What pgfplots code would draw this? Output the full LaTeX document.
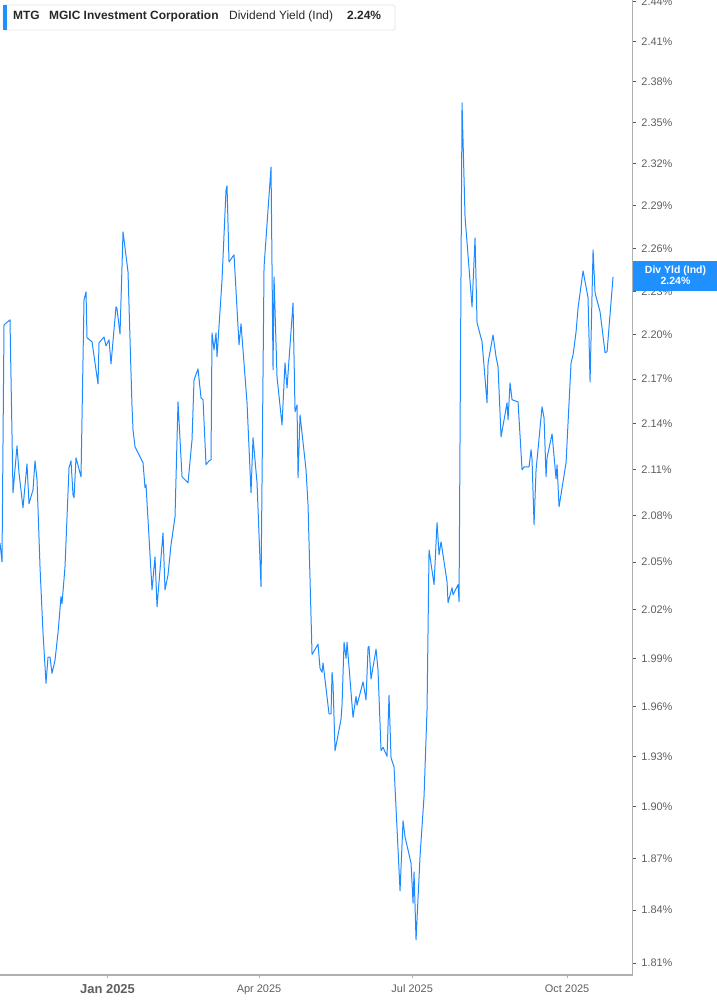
\documentclass[border=0pt]{standalone}
\usepackage{fontspec}
\setmainfont{Liberation Sans}
\usepackage{pgfplots}
\pgfplotsset{compat=1.18}
\definecolor{lineblue}{RGB}{30,138,255}
\definecolor{boxblue}{RGB}{30,144,255}
\definecolor{axgray}{RGB}{175,175,175}
\definecolor{txtgray}{RGB}{95,95,95}
\definecolor{legtxt}{RGB}{40,40,40}
\begin{document}
\begin{tikzpicture}[x=1bp,y=1bp]
\useasboundingbox (0,0) rectangle (717,1005);
\begin{axis}[
  at={(0bp,30bp)}, anchor=south west,
  scale only axis, width=632.7bp, height=975bp,
  xmin=-63.87, xmax=312.0,
  y coord trafo/.code={\pgfmathparse{ln(#1)}},
  y coord inv trafo/.code={\pgfmathparse{exp(#1)}},
  ymin=1.8034, ymax=2.4413,
  axis x line*=bottom, axis y line*=right,
  axis line style={draw=axgray, line width=1.5bp, -},
  tick align=outside, major tick length=3.5bp,
  xtick={0,90,181,273},
  xticklabels={{\fontsize{13}{13}\selectfont\bfseries Jan 2025},Apr 2025,Jul 2025,Oct 2025},
  xticklabel style={font=\fontsize{11}{11}\selectfont, text=txtgray, anchor=north, inner sep=0pt, yshift=-6bp},
  x tick style={draw=axgray, line width=1bp},
  ytick={1.81,1.84,1.87,1.90,1.93,1.96,1.99,2.02,2.05,2.08,2.11,2.14,2.17,2.20,2.23,2.26,2.29,2.32,2.35,2.38,2.41,2.44},
  yticklabels={1.81\%,1.84\%,1.87\%,1.90\%,1.93\%,1.96\%,1.99\%,2.02\%,2.05\%,2.08\%,2.11\%,2.14\%,2.17\%,2.20\%,2.23\%,2.26\%,2.29\%,2.32\%,2.35\%,2.38\%,2.41\%,2.44\%},
  yticklabel style={font=\fontsize{11}{11}\selectfont, text=txtgray, anchor=west, inner sep=0pt, xshift=5bp},
  y tick style={draw=black!65, line width=1bp},
  clip=true,
]
\addplot[lineblue, line width=1bp, line join=round] coordinates {
(-63.87,2.0624) (-62.68,2.0502) (-61.49,2.2069) (-57.93,2.2103) (-56.14,2.0947) (-53.77,2.1255) (-52.58,2.1077) (-50.20,2.0850) (-47.83,2.1136) (-46.64,2.0876) (-44.26,2.0967) (-43.07,2.1156) (-41.88,2.1032) (-40.10,2.0470) (-38.32,2.0055) (-36.54,1.9746) (-35.35,1.9906) (-34.16,1.9906) (-32.97,1.9807) (-31.19,1.9887) (-29.41,2.0055) (-27.63,2.0281) (-27.03,2.0237) (-25.25,2.0470) (-22.87,2.1110) (-21.69,2.1156) (-20.50,2.0934) (-19.90,2.0915) (-18.71,2.1176) (-15.74,2.1051)
(-13.96,2.2241) (-12.77,2.2296) (-12.18,2.1980) (-9.21,2.1953) (-5.64,2.1668) (-5.05,2.1946) (-2.08,2.1986) (-0.89,2.1925) (0.89,2.1966) (2.08,2.1803) (5.05,2.2193) (5.64,2.2179) (7.43,2.2007) (9.21,2.2716) (12.18,2.2435) (14.56,2.1514) (15.15,2.1360) (16.34,2.1248) (21.09,2.1143) (22.28,2.0980) (22.87,2.0999) (26.44,2.0325) (28.22,2.0534) (29.41,2.0218) (32.97,2.0688) (34.16,2.0325) (35.94,2.0420) (37.73,2.0611) (40.10,2.0791) (41.88,2.1547) (44.26,2.1051) (47.83,2.1012) (50.20,2.1294) (51.39,2.1695) (53.77,2.1769) (55.55,2.1574) (56.74,2.1561) (58.52,2.1130) (60.30,2.1156)
(61.49,2.1163) (62.08,2.2014) (63.27,2.1898) (64.46,2.2014) (65.06,2.1851) (68.03,2.2380) (70.40,2.3014) (71.00,2.3043) (72.18,2.2505) (75.15,2.2554) (78.13,2.1932) (79.31,2.2076) (82.88,2.1541) (85.25,2.0947) (86.44,2.1308) (88.82,2.1012) (91.20,2.0344) (92.98,2.2470) (97.14,2.3178) (98.33,2.1762) (98.92,2.2400) (100.70,2.1715) (103.67,2.1393) (105.45,2.1810) (106.64,2.1641) (110.21,2.2220) (111.40,2.1480) (112.58,2.1527) (113.18,2.1045) (114.37,2.1460) (117.93,2.1097)
(119.12,2.0869) (121.50,1.9924) (125.06,1.9987) (126.25,1.9838) (127.44,1.9814) (128.03,1.9869) (131.60,1.9557) (132.78,1.9557) (133.38,1.9814) (133.97,1.9740) (135.16,1.9333) (138.72,1.9526) (139.32,1.9611) (140.51,1.9999) (141.69,1.9899) (142.29,1.9999) (145.85,1.9538) (147.64,1.9666) (148.23,1.9611) (151.80,1.9752) (153.58,1.9642) (154.77,1.9968) (155.36,1.9974) (156.55,1.9771) (159.52,1.9956) (160.71,1.9826) (162.49,1.9333) (163.68,1.9357) (166.05,1.9303) (167.24,1.9672) (168.43,1.9291) (170.21,1.9238) (173.78,1.8511) (175.56,1.8918) (176.75,1.8824) (180.31,1.8672) (181.50,1.8441) (182.10,1.8620) (183.28,1.8231) (185.67,1.8713) (188.04,1.9065) (189.82,1.9587)
(191.01,2.0579) (193.98,2.0357) (195.76,2.0753) (196.95,2.0547) (198.14,2.0630) (201.70,2.0376) (202.30,2.0243) (204.67,2.0338) (205.27,2.0294) (208.24,2.0357) (208.83,2.0249) (210.61,2.3645) (212.39,2.2822) (216.55,2.2193) (218.34,2.2673) (219.52,2.2083) (222.49,2.1953) (225.46,2.1541) (226.06,2.1810) (229.03,2.2000) (230.81,2.1851) (232.00,2.1783) (233.78,2.1314) (237.35,2.1541) (237.94,2.1427) (239.13,2.1675) (240.32,2.1561) (243.88,2.1547) (246.26,2.1097) (247.45,2.1116) (250.42,2.1116) (251.61,2.1229)
(252.20,2.1163) (253.39,2.0740) (254.58,2.1097) (258.14,2.1514) (259.33,2.1440) (260.52,2.1051) (261.11,2.1176) (264.08,2.1334) (266.46,2.1038) (267.05,2.1130) (268.24,2.0856) (272.40,2.1143) (275.37,2.1810) (276.56,2.1864) (278.34,2.2021) (279.53,2.2186) (282.50,2.2442) (285.47,2.2255) (286.66,2.1681) (288.44,2.2589) (289.63,2.2289) (292.60,2.2158) (295.57,2.1878) (296.76,2.1885) (300.32,2.2400)
};
\end{axis}
% legend box top-left
\draw[draw=black!10, fill=white, line width=0.8bp, rounded corners=1.5bp] (3,975) rectangle (395,1000);
\fill[boxblue] (3,975) rectangle (6.5,1000);
\node[anchor=base west, inner sep=0pt, text=legtxt, font=\fontsize{12}{12}\selectfont\bfseries] at (13,985) {MTG};
\node[anchor=base west, inner sep=0pt, text=legtxt, font=\fontsize{12}{12}\selectfont\bfseries] at (49,985) {MGIC Investment Corporation};
\node[anchor=base west, inner sep=0pt, text=legtxt, font=\fontsize{12}{12}\selectfont] at (229,985) {Dividend Yield (Ind)};
\node[anchor=base west, inner sep=0pt, text=legtxt, font=\fontsize{12}{12}\selectfont\bfseries] at (347,985) {2.24\%};
% right value box
\fill[boxblue] (633,714) rectangle (717,744);
\node[anchor=base, inner sep=0pt, text=white, font=\fontsize{10.5}{10.5}\selectfont\bfseries] at (675.5,731.7) {Div Yld (Ind)};
\node[anchor=base, inner sep=0pt, text=white, font=\fontsize{10.5}{10.5}\selectfont\bfseries] at (675.5,720.7) {2.24\%};
\end{tikzpicture}
\end{document}
